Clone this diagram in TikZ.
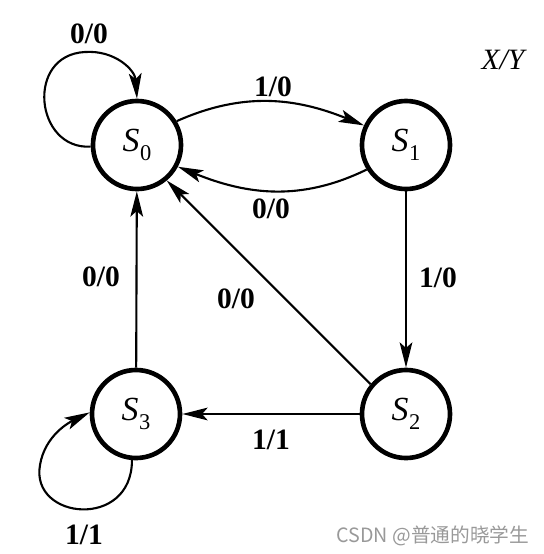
\documentclass[tikz,border=0pt]{standalone}
\usepackage{fontspec}
\setmainfont{Liberation Serif}
\newfontfamily\cjkfont{Noto Sans CJK SC}
\usetikzlibrary{arrows.meta}

\newcommand{\sname}[1]{\textit{S}\kern0.5pt\raisebox{-0.55ex}{\fontsize{16}{16}\selectfont #1}}

\begin{document}
\begin{tikzpicture}[x=0.025cm, y=-0.025cm,
    state/.style={circle, draw, line width=3.3pt, minimum size=2.2cm, inner sep=0pt, font=\fontsize{24}{24}\selectfont},
    conn/.style={line width=1.5pt, -{Stealth[length=18pt,width=9pt,inset=4pt]}},
    lbl/.style={inner sep=0pt, font=\fontsize{21}{21}\selectfont\bfseries}]
    %
    \useasboundingbox (0,0) rectangle (544,554);

    %
    \node[state] (s0) at (137,145) {\sname{0}};
    \node[state] (s1) at (406,145) {\sname{1}};
    \node[state] (s2) at (406,414) {\sname{2}};
    \node[state] (s3) at (136,414) {\sname{3}};

    %
    \draw[conn] (s0.182) .. controls (35,150) and (25,55) .. (85,52)
                .. controls (115,50) and (135,70) .. (s0.north);
    \draw[conn] (s0.31) to[out=24, in=158] (s1.155);
    \draw[conn] (s1.212) to[out=206, in=-22] (s0.-28);
    \draw[conn] (s1) -- (s2);
    \draw[conn] (s2.140) -- (s0.-50);
    \draw[conn] (s2) -- (s3);
    \draw[conn] (s3) -- (s0);
    \draw[conn] (s3.265) .. controls (132,530) and (30,520) .. (40,465)
                .. controls (45,435) and (70,422) .. (s3.178);

    %
    \node[lbl] (l00) at (89,34) {0/0};
    \node[lbl] (l01) at (273,87) {1/0};
    \node[lbl] (l10) at (271,209) {0/0};
    \node[lbl] (l12) at (438,278) {1/0};
    \node[lbl] (l20) at (236,299) {0/0};
    \node[lbl] (l23) at (271,440) {1/1};
    \node[lbl] (l30) at (101,277) {0/0};
    \node[lbl] (l33) at (84,535) {1/1};

    %
    \node[inner sep=0pt, font=\fontsize{21}{21}\selectfont\itshape] (xy) at (503,60) {X/Y};
    \node[inner sep=0pt, text=black!40, font=\fontsize{14}{14}\selectfont\cjkfont] (mark) at (433,536) {CSDN @普通的晓学生};
\end{tikzpicture}
\end{document}
